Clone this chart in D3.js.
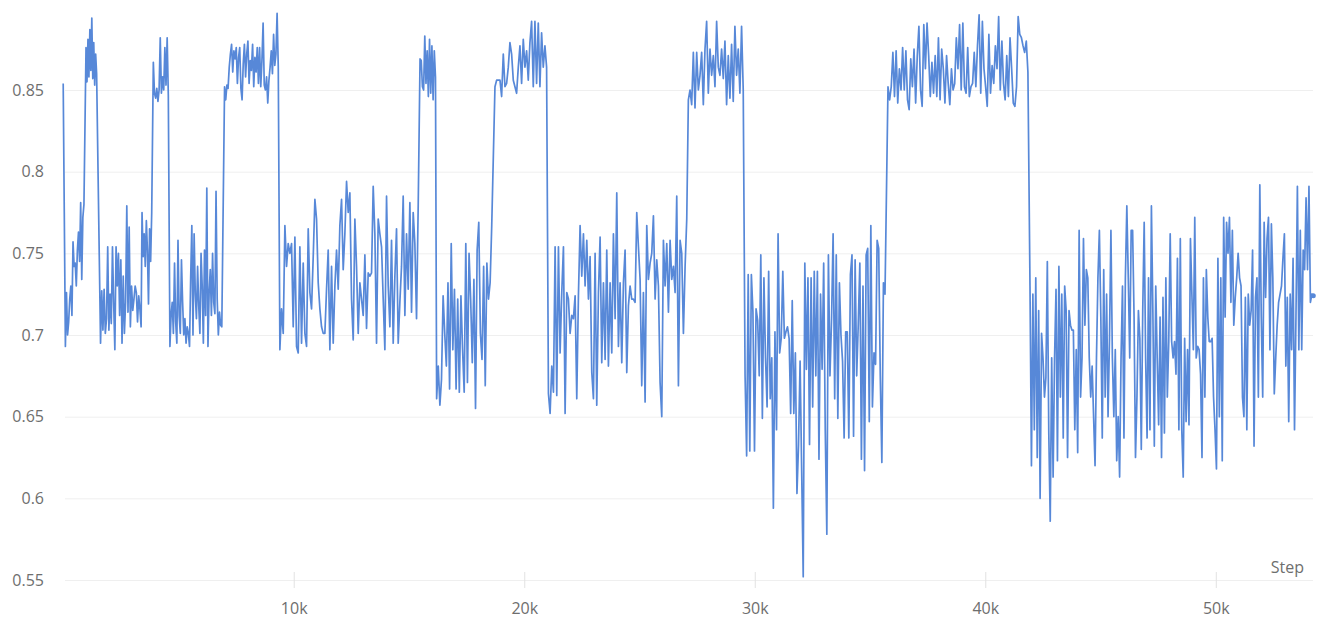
<!DOCTYPE html>
<html><head><meta charset="utf-8">
<script src="https://cdn.jsdelivr.net/npm/d3@7"></script>
<style>
html,body{margin:0;padding:0;background:#fff;}
svg{display:block;}
text{font-family:"Open Sans",sans-serif;}
</style></head><body>
<svg id="chart" width="1325" height="624"></svg>
<script>
const yTicks = [0.55, 0.6, 0.65, 0.7, 0.75, 0.8, 0.85];
const yTickLabels = ["0.55", "0.6", "0.65", "0.7", "0.75", "0.8", "0.85"];
const xTicks = [10000, 20000, 30000, 40000, 50000];
const xTickLabels = ["10k", "20k", "30k", "40k", "50k"];
const xAxisTitle = "Step";

const segA = [.854,.775,.693,.726,.700,.708,.722,.730,.712,.757,.742,.744,.730,.752,.763,.745,.781,.734,.772,.780];
const segB = [.876,.855,.881,.858,.887,.862,.894,.857,.879,.853,.872,.860];
const segC = [.695,.727,.703,.728,.701,.710,.754,.703,.725,.707,.754,.720,.691,.754,.730,.750,.712,.746,.695,.736,.701,.720,.779,.714,.766,.705,.730,.715,.722,.730,.726,.708,.724,.716,.705];
const segD = [.775,.748,.762,.742,.770,.752,.719,.765,.745,.775];
const segE = [.867,.848,.845,.851,.843,.850,.882,.848,.858,.850,.876,.853,.882,.847];
const segF = [.693,.712,.720,.701,.744,.708,.695,.758,.712,.701,.746,.720,.700,.710,.695,.705,.701,.693,.735,.767,.700,.762,.725,.710,.742,.718,.701,.750,.730,.695,.752,.712,.790,.693,.726,.740,.712,.750,.720,.713,.788,.722,.700,.714,.706,.705];
const segG = [.852,.844,.853,.851,.864,.872,.878,.861,.874,.869,.876,.854,.870,.876,.851,.844,.866,.878,.858,.872,.880,.854,.868,.862,.878,.852,.870,.861,.876,.854,.876,.852,.868,.891,.853,.850,.858,.842,.856,.864,.874,.860,.884,.865,.872,.897,.864];
const segH = [.691,.716,.701,.767,.742,.756,.750,.756,.705,.760,.693,.689,.754,.695,.744,.701,.693,.765,.726,.716,.748,.783,.771,.732,.716,.705,.701,.701,.728,.752,.691,.742,.695,.730,.752,.728,.767,.783,.740,.762,.794,.775,.787,.722,.697,.771,.742,.701,.732,.722,.712,.749,.704,.738,.736,.738,.791,.762,.695,.771,.762,.754,.722,.691,.785,.730,.705,.758,.695,.736,.765,.695,.720,.742,.785,.712,.762,.728,.781,.714,.775,.756,.710,.779];
const segI = [.869,.868,.852,.850,.883,.854,.874,.846,.881,.848,.877,.844,.874,.858];
const segJ = [.661,.681,.657,.673,.724,.701,.681,.732,.667,.756,.691,.728,.667,.722,.665,.724,.691,.665,.756,.671,.750,.722,.683,.734,.655,.752,.769,.701,.685,.742,.669,.744,.722,.732,.767];
const segK = [.852,.856,.856,.856,.846,.872,.852,.854,.864,.879,.872,.856,.852,.848,.864,.877,.854,.881,.864,.874,.856,.879,.892,.852,.892,.854,.891,.852,.885,.864,.877,.864];
const segL = [.664,.652,.681,.665,.754,.663,.754,.689,.726,.754,.652,.726,.722,.701,.712,.710,.724,.661,.724,.767,.736,.762,.730,.758,.722,.748,.677,.661,.750,.657,.726,.760,.683,.732,.685,.752,.681,.732,.689,.762,.710,.787,.693,.732,.683,.732,.752,.677,.718,.730,.722,.722,.720,.775,.754,.734,.669,.726,.659,.767,.734,.744,.750,.773,.722,.746,.730,.671,.650,.758,.730,.756,.714,.758,.734,.742,.726,.785,.669,.758,.750,.701,.742,.771];
const segM = [.844,.850,.841,.873,.839,.873,.850,.859,.873,.841,.875,.892,.848,.875,.859,.871,.852,.892,.864,.859,.875,.857,.880,.841,.871,.845,.878,.843,.889,.859,.875,.848,.889,.850];
const segN = [.675,.626,.737,.629,.737,.714,.629,.716,.709,.675,.749,.649,.735,.686,.656,.739,.661,.686,.594,.702,.642,.762,.689,.698,.739,.698,.702,.705,.698,.652,.721,.652,.689,.603,.633,.684,.617,.552,.744,.679,.735,.633,.735,.656,.739,.675,.739,.624,.725,.679,.744,.642,.578,.749,.675,.709,.762,.661,.749,.649,.732,.700,.684,.637,.702,.702,.637,.737,.749,.638,.746,.675,.707,.744,.624,.730,.617,.749,.753,.647,.767,.656,.689,.682,.758,.753,.675,.622,.732,.725];
const segO = [.852,.844,.852,.873,.846,.874,.842,.863,.850,.876,.850,.874,.844,.838,.869,.852,.875,.842,.871,.889,.850,.840,.890,.863,.891,.871,.846,.867,.848,.871,.846,.882,.844,.875,.863,.842,.871,.854,.841,.863,.850,.854,.882,.863,.890,.850,.891,.852,.848,.876,.846,.852,.854,.873,.852,.877,.896,.848,.892,.863,.852,.840,.884,.848,.865,.854,.877,.863,.895,.850,.880,.854,.844,.871,.846,.882,.863,.842,.840,.852,.895,.884,.882,.877,.873,.880,.861];
const segP = [.730,.620,.725,.642,.735,.625,.715,.600,.701,.686,.662,.674,.745,.640,.586,.686,.613,.686,.728,.623,.742,.662,.725,.637,.730,.715,.625,.715,.706,.703,.703,.642,.691,.628,.764,.662,.686,.759,.706,.740,.735,.686,.662,.681,.650,.620,.686,.735,.764,.711,.637,.740,.662,.725,.650,.698,.764,.686,.650,.691,.623,.650,.613,.686,.730,.637,.735,.779,.735,.686,.764,.764,.711,.625,.662,.715,.698,.630,.715,.769,.686,.637,.735,.642,.779,.715,.632,.730,.686,.645,.711,.625,.723,.640,.735,.662,.696,.762,.696,.686,.696,.676,.747,.642,.759,.642,.613,.698,.647,.691,.645,.759,.725,.691,.772,.686,.693,.691,.676,.625,.735,.662,.740,.711,.696,.696,.698,.662,.642,.618,.747,.650,.735,.623,.772,.711,.769,.750,.772,.720,.764,.706,.723,.735,.750,.735,.730,.662,.650,.723,.642,.725,.706,.715,.752,.632,.723,.735,.662,.792,.711,.662,.769,.723,.759,.772,.691,.768,.735,.664,.686,.706,.720,.725,.730,.747,.762,.681,.723,.647,.725,.691,.747,.642,.711,.791,.691,.764,.691,.752,.740,.784,.740,.791,.720,.725,.724];

const segmentSteps = [[0,900],[990,1450],[1620,3380],[3420,3840],[3910,4560],[4630,6880],[7000,9330],[9400,15400],[15480,16150],[16200,18590],[18730,20970],[21050,27050],[27120,29500],[29580,35650],[35780,41850],[41940,54230]];
const segmentValues = [segA,segB,segC,segD,segE,segF,segG,segH,segI,segJ,segK,segL,segM,segN,segO,segP];

const data = [];
segmentValues.forEach((vals, si) => {
  const [s0, s1] = segmentSteps[si];
  vals.forEach((v, i) => {
    data.push({step: Math.round(s0 + (s1 - s0) * i / (vals.length - 1)), value: v});
  });
});

const svg = d3.select("#chart");
const plotLeft = 63.2, plotRight = 1313.3, plotTop = 90, plotBottom = 580;
const x = d3.scaleLinear().domain([0, 54230]).range([plotLeft, plotRight]);
const y = d3.scaleLinear().domain([0.55, 0.85]).range([plotBottom, plotTop]);

// horizontal grid + y labels
const yAxis = d3.axisLeft(y).tickValues(yTicks)
  .tickFormat((d, i) => yTickLabels[i])
  .tickSizeInner(-(1313 - 65)).tickSizeOuter(0).tickPadding(21);
const gy = svg.append("g").attr("transform", "translate(65,0)").call(yAxis);
gy.select(".domain").remove();
gy.selectAll(".tick line").attr("stroke", "#efefef").attr("stroke-width", 1);
gy.selectAll(".tick text").attr("fill", "#6e6e6e").style("font-size", "16px")
  .style("font-family", "'Open Sans', sans-serif");

// x axis ticks and labels
const xAxis = d3.axisBottom(x).tickValues(xTicks)
  .tickFormat((d, i) => xTickLabels[i]).tickSizeInner(8).tickSizeOuter(0);
const gx = svg.append("g").attr("transform", `translate(0,${plotBottom})`).call(xAxis);
gx.select(".domain").remove();
gx.selectAll(".tick line").attr("y1", -8).attr("y2", 8).attr("stroke", "#e2e2e2");
gx.selectAll(".tick text").attr("y", 34).attr("dy", 0).attr("fill", "#6e6e6e")
  .style("font-size", "16px").style("font-family", "'Open Sans', sans-serif");

svg.append("text").attr("x", 1304).attr("y", 573).attr("text-anchor", "end")
  .attr("fill", "#6e6e6e").style("font-size", "16px").text(xAxisTitle);

const line = d3.line().x(d => x(d.step)).y(d => y(d.value));
svg.append("path").datum(data).attr("d", line)
  .attr("fill", "none").attr("stroke", "#5788d8").attr("stroke-width", 1.7)
  .attr("stroke-linejoin", "round");

const last = data[data.length - 1];
svg.append("circle").attr("cx", x(last.step)).attr("cy", y(last.value))
  .attr("r", 2.5).attr("fill", "#5788d8");
</script>
</body></html>
